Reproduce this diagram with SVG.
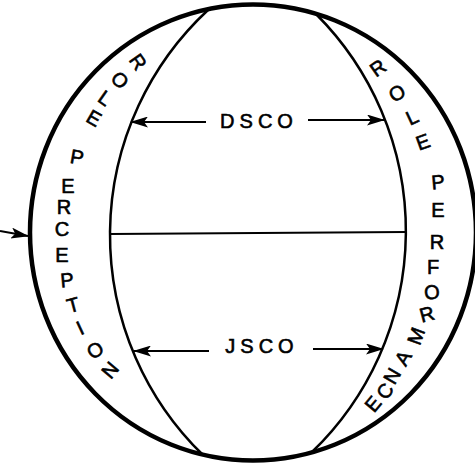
<svg xmlns="http://www.w3.org/2000/svg" width="475" height="465" viewBox="0 0 475 465">
<style>
.outer{fill:none;stroke:#000;stroke-width:4.5}
.arc{fill:none;stroke:#000;stroke-width:2.5}
.ln{fill:none;stroke:#000;stroke-width:2}
.lbl{font-family:"Liberation Sans","DejaVu Sans",sans-serif;font-size:20px;fill:#000;stroke:#000;stroke-width:0.6;text-anchor:middle;dominant-baseline:central}
.mid{font-family:"Liberation Sans","DejaVu Sans",sans-serif;font-size:20px;fill:#000;stroke:#000;stroke-width:0.6;text-anchor:middle;letter-spacing:5px}
</style>
<defs>
<marker id="ah" viewBox="0 0 18 11" markerWidth="18" markerHeight="11" refX="17" refY="5.5" orient="auto" markerUnits="userSpaceOnUse">
<path d="M0,0 L18,5.5 L0,11 L4,5.5 z" fill="#000"/>
</marker>
</defs>
<rect width="475" height="465" fill="#fff"/>
<g id="sphere">
<ellipse class="outer" cx="253" cy="232.5" rx="223" ry="228"/>
</g>
<g id="lens">
<path class="arc" d="M208,10 A307,307 0 0 0 203,455"/>
<path class="arc" d="M316,14 A307,307 0 0 1 312,452"/>
<path class="ln" d="M110,234 L406,232"/>
</g>
<g id="role-perception">
<text class="lbl" transform="translate(138,62) rotate(55)">R</text>
<text class="lbl" transform="translate(120,80) rotate(45)">O</text>
<text class="lbl" transform="translate(105,98) rotate(35)">L</text>
<text class="lbl" transform="translate(94,118) rotate(30)">E</text>
<text class="lbl" transform="translate(77,157) rotate(10)">P</text>
<text class="lbl" transform="translate(68,186) rotate(0)">E</text>
<text class="lbl" transform="translate(64,207) rotate(0)">R</text>
<text class="lbl" transform="translate(62,229) rotate(0)">C</text>
<text class="lbl" transform="translate(62,255) rotate(0)">E</text>
<text class="lbl" transform="translate(67,280) rotate(-5)">P</text>
<text class="lbl" transform="translate(73,305) rotate(-15)">T</text>
<text class="lbl" transform="translate(80,328) rotate(-25)">I</text>
<text class="lbl" transform="translate(95,350) rotate(-35)">O</text>
<text class="lbl" transform="translate(110,370) rotate(-50)">N</text>
</g>
<g id="role-performance">
<text class="lbl" transform="translate(378,68) rotate(-35)">R</text>
<text class="lbl" transform="translate(397,93) rotate(-30)">O</text>
<text class="lbl" transform="translate(412,117) rotate(-25)">L</text>
<text class="lbl" transform="translate(423,142) rotate(-20)">E</text>
<text class="lbl" transform="translate(438,182) rotate(-5)">P</text>
<text class="lbl" transform="translate(438,210) rotate(0)">E</text>
<text class="lbl" transform="translate(437,242) rotate(0)">R</text>
<text class="lbl" transform="translate(433,267) rotate(0)">F</text>
<text class="lbl" transform="translate(432,292) rotate(-5)">O</text>
<text class="lbl" transform="translate(427,314) rotate(-15)">R</text>
<text class="lbl" transform="translate(416,336) rotate(-70)">M</text>
<text class="lbl" transform="translate(403,358) rotate(-60)">A</text>
<text class="lbl" transform="translate(392,376) rotate(-60)">N</text>
<text class="lbl" transform="translate(385,391) rotate(-55)">C</text>
<text class="lbl" transform="translate(373,404) rotate(-50)">E</text>
</g>
<g id="dsco">
<text class="mid" x="259" y="128">DSCO</text>
</g>
<g id="jsco">
<text class="mid" x="262" y="353">JSCO</text>
</g>
<g id="connectors">
<path class="ln" d="M206,122 L131,122" marker-end="url(#ah)"/>
<path class="ln" d="M308,120 L384,120" marker-end="url(#ah)"/>
<path class="ln" d="M209,351 L134,351" marker-end="url(#ah)"/>
<path class="ln" d="M313,349 L383,349" marker-end="url(#ah)"/>
<path class="ln" d="M0,231 L28,236" marker-end="url(#ah)"/>
</g>
</svg>
